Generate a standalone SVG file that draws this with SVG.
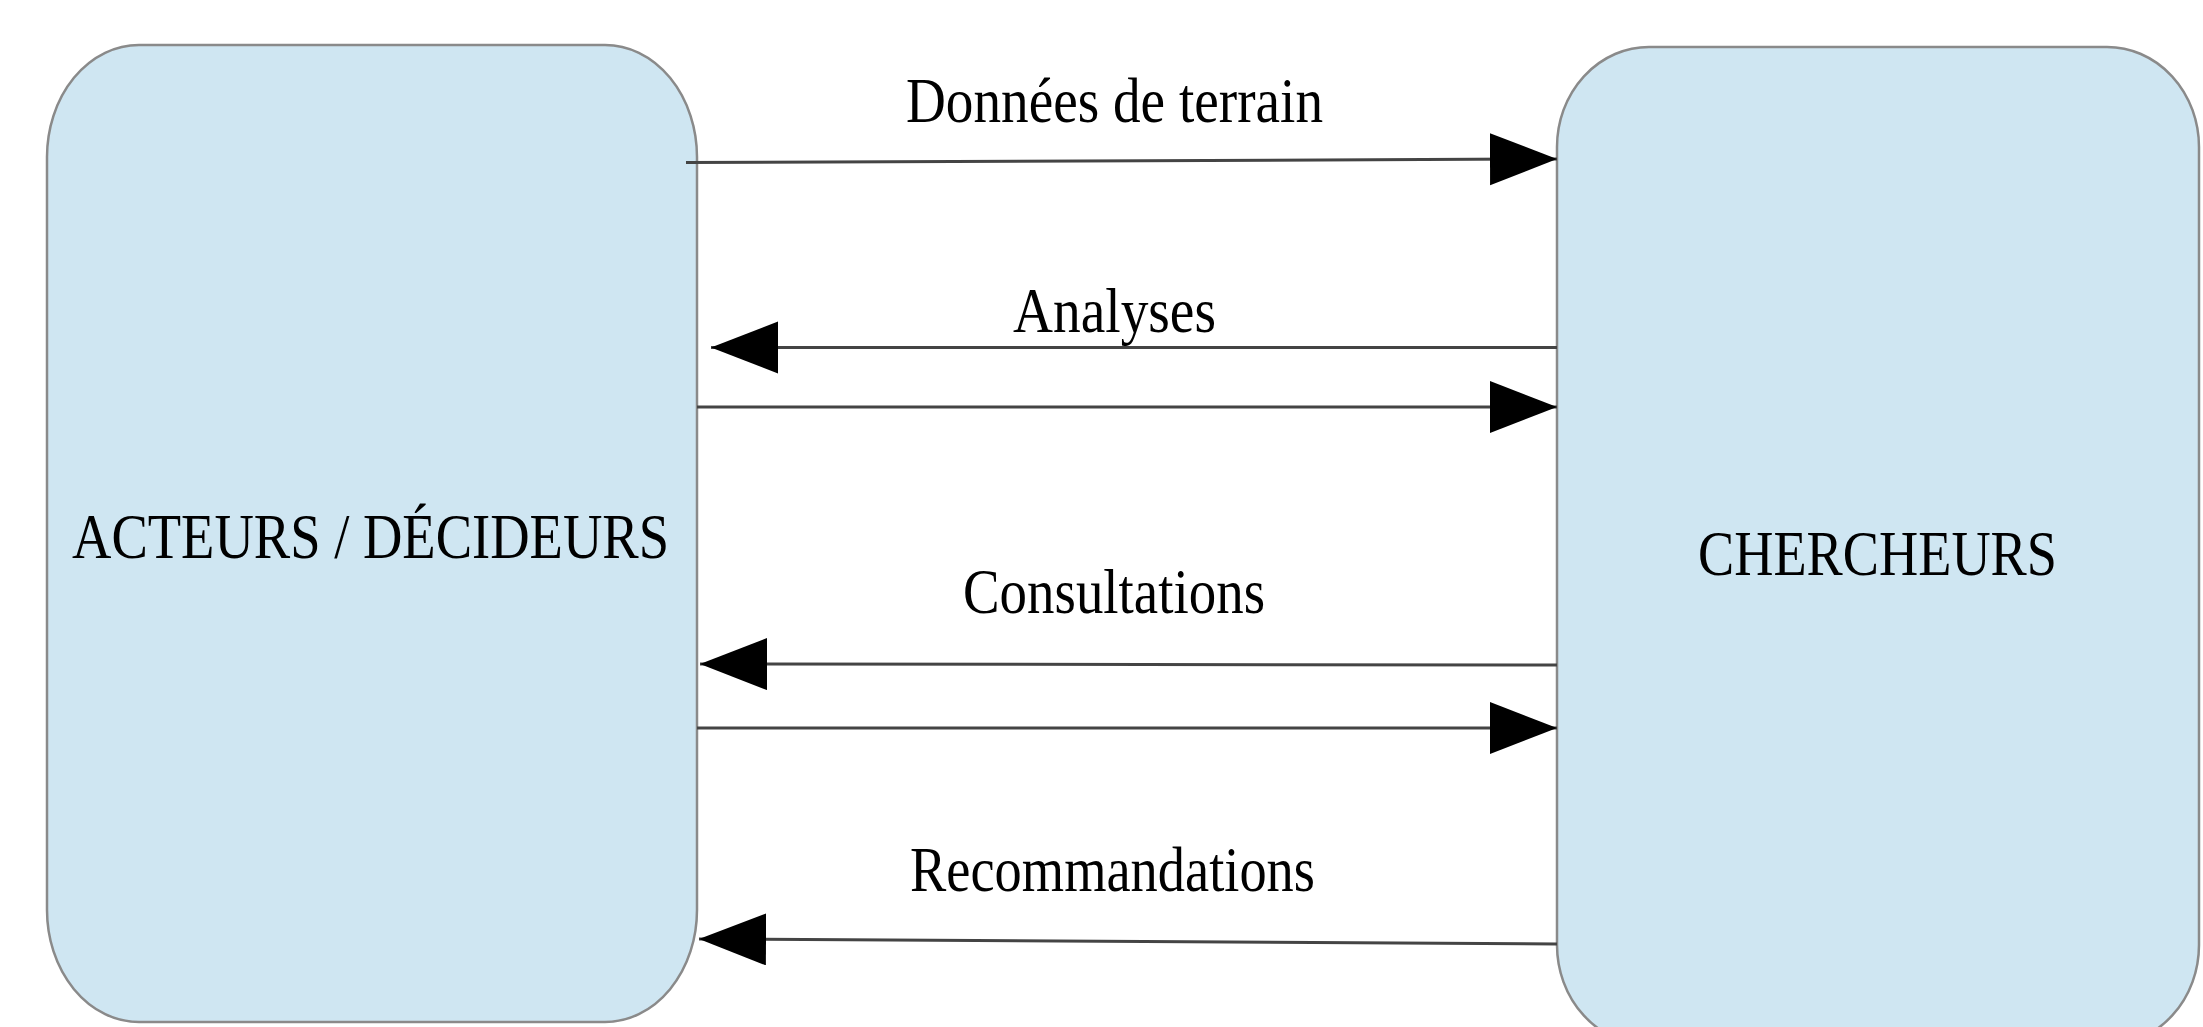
<svg xmlns="http://www.w3.org/2000/svg" width="2203" height="1027" viewBox="0 0 2203 1027">
  <style>
    .box { fill: #cfe6f2; stroke: #8a8a8a; stroke-width: 2.5; }
    .lbl { font-family: "Liberation Serif", "Times New Roman", serif; font-size: 63px; fill: #000; }
    .conn { stroke: #444; stroke-width: 3; fill: none; marker-end: url(#arrow); }
  </style>
  <defs>
    <marker id="arrow" markerUnits="userSpaceOnUse" markerWidth="68" markerHeight="54" refX="67" refY="26" orient="auto" viewBox="0 0 68 54">
      <path d="M0,0 L67,26 L0,52 Z" fill="#000"/>
    </marker>
  </defs>
  <rect width="2203" height="1027" fill="#fff"/>

  <g id="node-acteurs">
    <rect class="box" x="47" y="45" width="650" height="977" rx="92" ry="112"/>
    <text class="lbl" x="72" y="558" textLength="597" lengthAdjust="spacingAndGlyphs">ACTEURS / DÉCIDEURS</text>
  </g>

  <g id="node-chercheurs">
    <rect class="box" x="1557" y="47" width="642" height="998" rx="92" ry="100"/>
    <text class="lbl" x="1698" y="575" textLength="359" lengthAdjust="spacingAndGlyphs">CHERCHEURS</text>
  </g>

  <g id="connectors">
    <line class="conn" x1="686" y1="162.5" x2="1557" y2="159"/>
    <line class="conn" x1="1557" y1="347.5" x2="711" y2="347.5"/>
    <line class="conn" x1="697" y1="407" x2="1557" y2="407"/>
    <line class="conn" x1="1557" y1="665" x2="700" y2="664"/>
    <line class="conn" x1="697" y1="728" x2="1557" y2="728"/>
    <line class="conn" x1="1557" y1="944" x2="699" y2="939"/>
  </g>

  <g id="connector-labels">
    <text class="lbl" x="906" y="122" textLength="417" lengthAdjust="spacingAndGlyphs">Données de terrain</text>
    <text class="lbl" x="1013" y="332" textLength="203" lengthAdjust="spacingAndGlyphs">Analyses</text>
    <text class="lbl" x="963" y="613" textLength="302" lengthAdjust="spacingAndGlyphs">Consultations</text>
    <text class="lbl" x="910" y="891" textLength="405" lengthAdjust="spacingAndGlyphs">Recommandations</text>
  </g>
</svg>
